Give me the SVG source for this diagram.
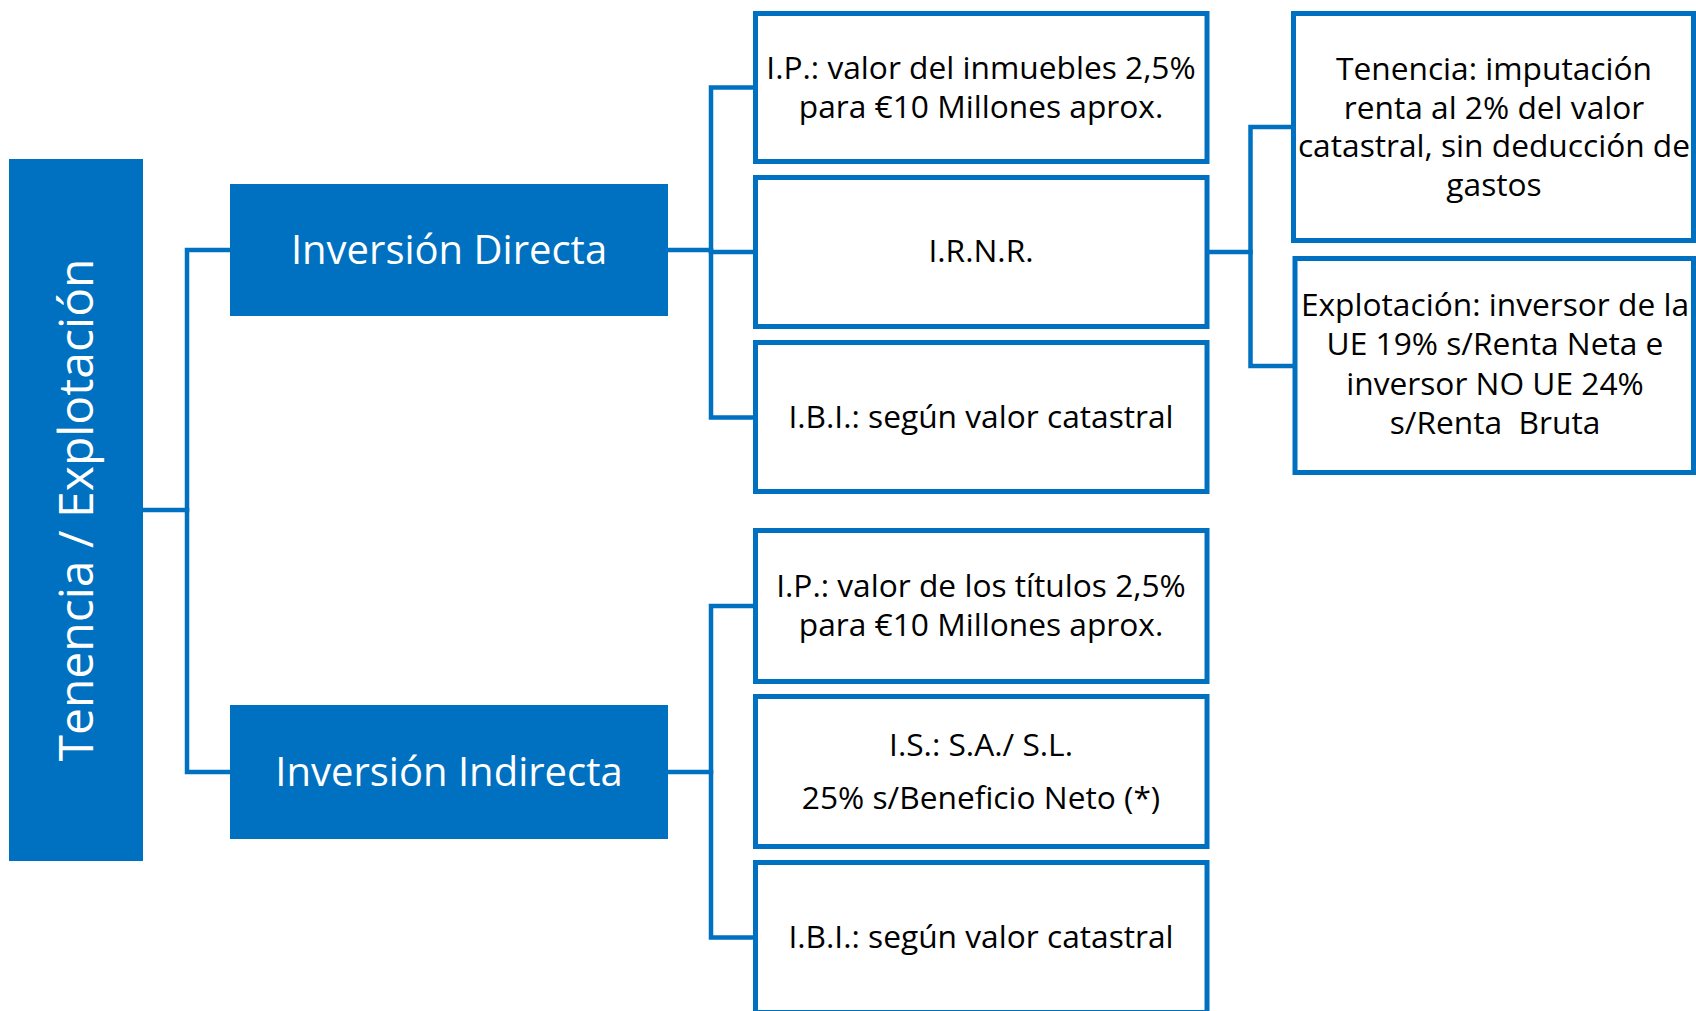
<svg xmlns="http://www.w3.org/2000/svg" width="1696" height="1011" viewBox="0 0 1696 1011">
<style>
.solid{fill:#0070C0;}
.wbox{fill:#ffffff;stroke:#0070C0;stroke-width:5;}
.conn{fill:none;stroke:#0070C0;stroke-width:4.5;stroke-linejoin:miter;stroke-linecap:square;}
.wt{font-family:"Open Sans","Noto Sans","Liberation Sans",sans-serif;fill:#ffffff;text-anchor:middle;}
.bt{font-family:"Open Sans","Noto Sans","Liberation Sans",sans-serif;fill:#000000;font-size:31.7px;text-anchor:middle;}
</style>
<rect width="1696" height="1011" fill="#ffffff"/>
<g id="connectors">
<polyline class="conn" points="143,510 187,510"/>
<polyline class="conn" points="230,250 187,250 187,772 230,772"/>
<polyline class="conn" points="668,250 711,250"/>
<polyline class="conn" points="753,87.5 711,87.5 711,417.5 753,417.5"/>
<polyline class="conn" points="711,252 753,252"/>
<polyline class="conn" points="668,772 711,772"/>
<polyline class="conn" points="753,606 711,606 711,937.5 753,937.5"/>
<polyline class="conn" points="1209,252 1250.5,252"/>
<polyline class="conn" points="1291,127 1250.5,127 1250.5,366 1291,366"/>
</g>
<g id="n-tenencia">
<rect class="solid" x="9" y="159" width="134" height="702"/>
<text class="wt" font-size="48" transform="translate(93,510) rotate(-90)" x="0" y="0">Tenencia / Explotación</text>
</g>
<g id="n-directa">
<rect class="solid" x="230" y="184" width="438" height="132"/>
<text class="wt" font-size="40" x="449" y="264">Inversión Directa</text>
</g>
<g id="n-indirecta">
<rect class="solid" x="230" y="705" width="438" height="134"/>
<text class="wt" font-size="40" x="449" y="786">Inversión Indirecta</text>
</g>
<g id="n-ip-directa">
<rect class="wbox" x="755.5" y="13.5" width="451.5" height="148"/>
<text class="bt" x="981" y="79">I.P.: valor del inmuebles 2,5%</text>
<text class="bt" x="981" y="117.5">para €10 Millones aprox.</text>
</g>
<g id="n-irnr">
<rect class="wbox" x="755.5" y="177.5" width="451.5" height="149"/>
<text class="bt" x="981" y="262">I.R.N.R.</text>
</g>
<g id="n-ibi-directa">
<rect class="wbox" x="755.5" y="342.5" width="451.5" height="149"/>
<text class="bt" x="981" y="427.5">I.B.I.: según valor catastral</text>
</g>
<g id="n-ip-indirecta">
<rect class="wbox" x="755.5" y="530.5" width="451.5" height="151"/>
<text class="bt" x="981" y="597">I.P.: valor de los títulos 2,5%</text>
<text class="bt" x="981" y="635.5">para €10 Millones aprox.</text>
</g>
<g id="n-is">
<rect class="wbox" x="755.5" y="696.5" width="451.5" height="150"/>
<text class="bt" x="981" y="755.5">I.S.: S.A./ S.L.</text>
<text class="bt" x="981" y="809">25% s/Beneficio Neto (*)</text>
</g>
<g id="n-ibi-indirecta">
<rect class="wbox" x="755.5" y="862.5" width="451.5" height="150"/>
<text class="bt" x="981" y="947.5">I.B.I.: según valor catastral</text>
</g>
<g id="n-tenencia-irnr">
<rect class="wbox" x="1293.5" y="13.5" width="400" height="227"/>
<text class="bt" x="1494" y="80">Tenencia: imputación</text>
<text class="bt" x="1494" y="118.5">renta al 2% del valor</text>
<text class="bt" x="1494" y="157">catastral, sin deducción de</text>
<text class="bt" x="1494" y="195.5">gastos</text>
</g>
<g id="n-explotacion-irnr">
<rect class="wbox" x="1295" y="258.5" width="398.5" height="214"/>
<text class="bt" x="1495" y="316">Explotación: inversor de la</text>
<text class="bt" x="1495" y="355">UE 19% s/Renta Neta e</text>
<text class="bt" x="1495" y="394.5">inversor NO UE 24%</text>
<text class="bt" x="1495" y="434" xml:space="preserve">s/Renta  Bruta</text>
</g>
</svg>
